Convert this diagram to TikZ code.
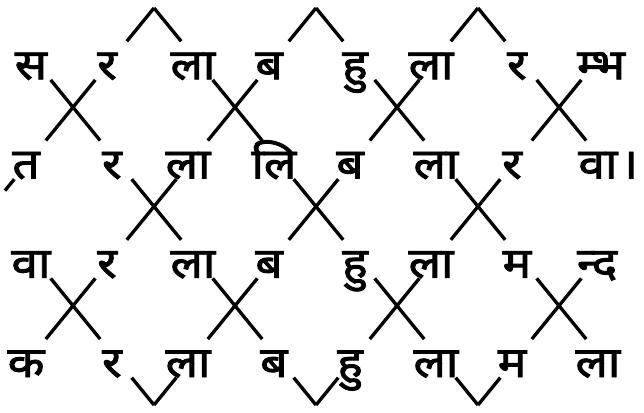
\documentclass[tikz,border=0pt]{standalone}
\usepackage{fontspec}
\newfontfamily\deva[Script=Devanagari,FakeBold=2.2,FakeStretch=1.12]{Noto Sans}
\usetikzlibrary{calc}
\tikzset{
  lat/.style={line width=2.5pt},
  letter/.style={circle, inner sep=0pt, minimum size=37pt},
}
\newcommand\dv[1]{\smash{\makebox[0pt]{\kern-6pt\raisebox{-14pt}{\deva\fontsize{32}{32}\selectfont #1}}}}
\begin{document}
\begin{tikzpicture}[x=0.75pt,y=-0.75pt]
\useasboundingbox (0,0) rectangle (644,413);
\foreach \k in {0,...,8}{
  \foreach \j in {0,...,4}{
    \coordinate (P-\k-\j) at ({-8+81*\k},{8+99.25*\j});
  }
}
\foreach \r/\i/\t in {
  1/0/स,1/1/र,1/2/ला,1/3/ब,1/4/हु,1/5/ला,1/6/र,1/7/{\kern12pt म्भ},
  2/0/त,2/1/र,2/2/ला,2/3/लि,2/4/ब,2/5/ला,2/6/र,2/7/{वा\rlap{\kern2pt।}},
  3/0/वा,3/1/र,3/2/ला,3/3/ब,3/4/हु,3/5/ला,3/6/म,3/7/{\kern6pt न्द},
  4/0/क,4/1/र,4/2/ला,4/3/ब,4/4/हु,4/5/ला,4/6/म,4/7/ला}{
  \pgfmathtruncatemacro\jj{\r-1}
  \pgfmathtruncatemacro\ip{\i+1}
  \pgfmathtruncatemacro\pr{mod(\i+\jj,2)}
  \ifnum\pr=0 \edef\uk{\i}\edef\dk{\ip}\else \edef\uk{\ip}\edef\dk{\i}\fi
  \node[letter] (L-\r-\i) at ($(P-\uk-\jj)!0.53!(P-\dk-\r)$) {\dv{\t}};
  \ifnum\uk>0 \ifnum\uk<8 \draw[lat] (P-\uk-\jj) -- (L-\r-\i); \fi\fi
  \ifnum\dk>0 \ifnum\dk<8 \draw[lat] (L-\r-\i) -- (P-\dk-\r); \fi\fi
}
\coordinate (tick) at ($(P-1-1)!0.84!(P-0-2)$);
\draw[lat] (L-2-0) -- (tick);
\end{tikzpicture}
\end{document}
